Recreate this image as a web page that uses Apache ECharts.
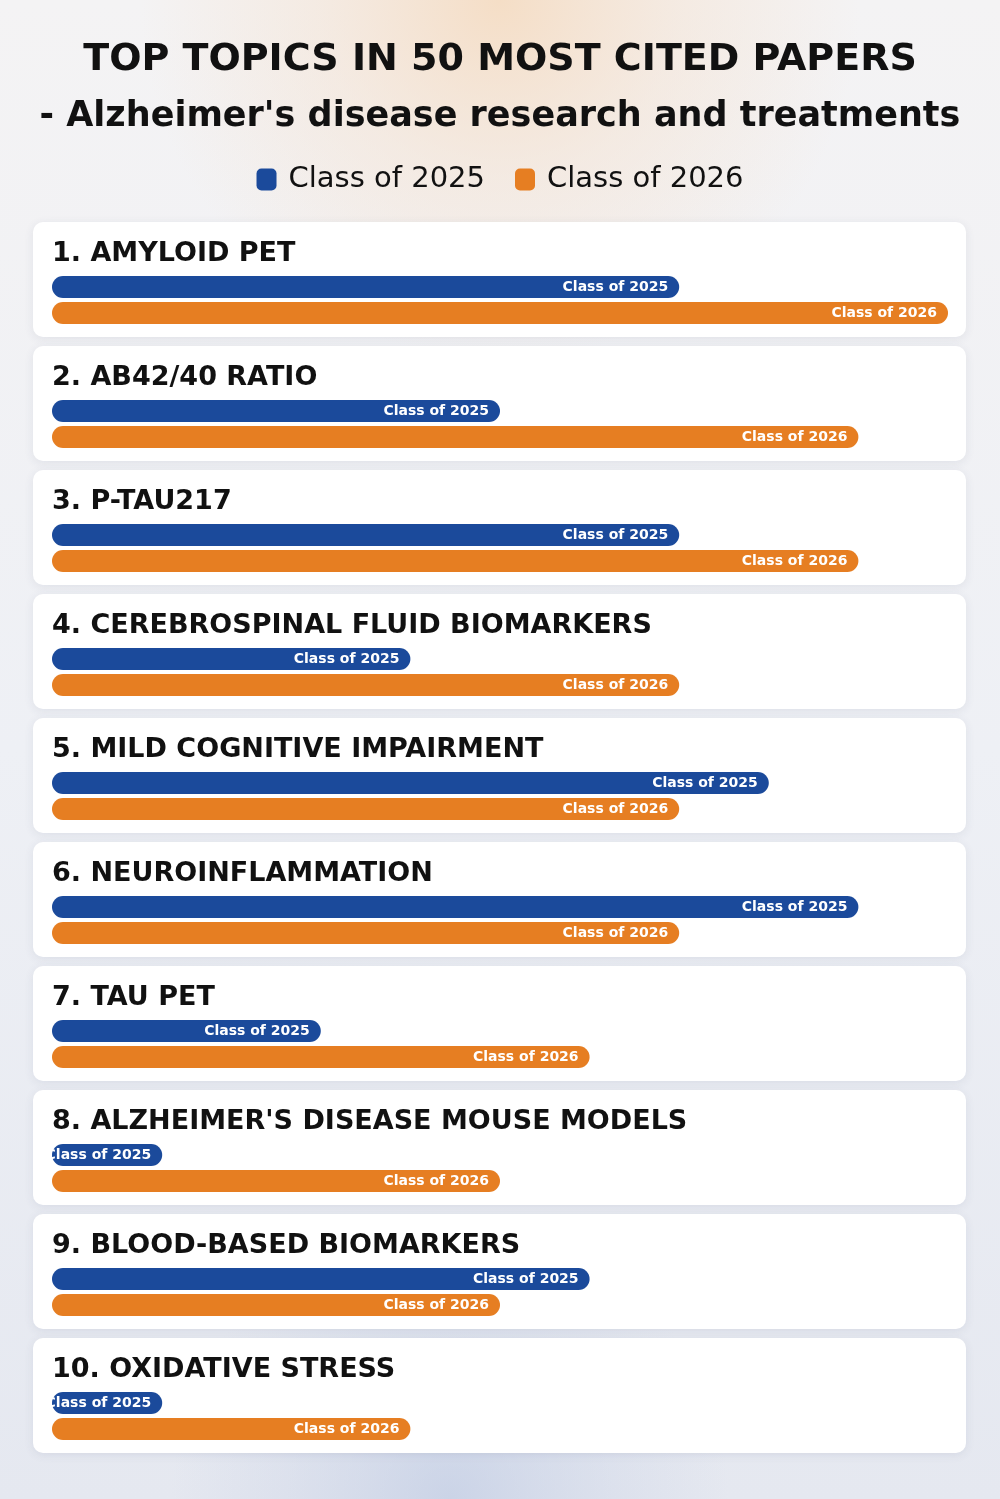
<!DOCTYPE html>
<html>
<head>
<meta charset="utf-8">
<script src="https://cdn.jsdelivr.net/npm/echarts@6/dist/echarts.min.js"></script>
<style>
html,body{margin:0;padding:0;}
#chart{width:1000px;height:1499px;}
</style>
</head>
<body>
<div id="chart"></div>
<script>
const topics = [
  "1. AMYLOID PET",
  "2. AB42/40 RATIO",
  "3. P-TAU217",
  "4. CEREBROSPINAL FLUID BIOMARKERS",
  "5. MILD COGNITIVE IMPAIRMENT",
  "6. NEUROINFLAMMATION",
  "7. TAU PET",
  "8. ALZHEIMER'S DISEASE MOUSE MODELS",
  "9. BLOOD-BASED BIOMARKERS",
  "10. OXIDATIVE STRESS"
];
const class2025 = [7, 5, 7, 4, 8, 9, 3, 1.23, 6, 1.23];
const class2026 = [10, 9, 9, 7, 7, 7, 6, 5, 5, 4];
const seriesNames = ["Class of 2025", "Class of 2026"];
const rowCats = ["2025", "2026"];
const mainTitle = "TOP TOPICS IN 50 MOST CITED PAPERS";
const subTitle = "- Alzheimer's disease research and treatments";

const BLUE = "#1b4a9b";
const ORANGE = "#e67e22";
const FONT = "'DejaVu Sans', sans-serif";

const chart = echarts.init(document.getElementById('chart'), null, {renderer: 'canvas'});

const cardTop0 = 222, pitch = 124, cardH = 115;
const grids = [], xAxes = [], yAxes = [], series = [], titles = [], cards = [];

titles.push({
  text: mainTitle, left: 'center', top: 36,
  textStyle: {fontFamily: FONT, fontWeight: 'bold', fontSize: 38, color: '#111111'}
});
titles.push({
  text: subTitle, left: 'center', top: 94,
  textStyle: {fontFamily: FONT, fontWeight: 'bold', fontSize: 35, color: '#111111'}
});

topics.forEach((t, i) => {
  const top = cardTop0 + pitch * i;
  cards.push({
    type: 'rect', z: -5,
    shape: {x: 33, y: top, width: 933, height: cardH, r: 10},
    style: {fill: '#ffffff', shadowBlur: 10, shadowColor: 'rgba(60,70,110,0.10)', shadowOffsetY: 2}
  });
  titles.push({
    text: t, left: 47, top: top + 13,
    textStyle: {fontFamily: FONT, fontWeight: 'bold', fontSize: 27, color: '#111111'}
  });
  grids.push({left: 52, right: 52, top: top + 52, height: 52, containLabel: false});
  xAxes.push({type: 'value', gridIndex: i, min: 0, max: 10, show: false});
  yAxes.push({type: 'category', gridIndex: i, data: rowCats, inverse: true, show: false});
  [class2025, class2026].forEach((arr, k) => {
    const data = k === 0 ? [arr[i], null] : [null, arr[i]];
    series.push({
      name: seriesNames[k], type: 'bar', xAxisIndex: i, yAxisIndex: i,
      data: data, barWidth: 22, barGap: '-100%',
      itemStyle: {color: k === 0 ? BLUE : ORANGE, borderRadius: 11},
      label: {
        show: true, position: 'insideRight', distance: 11,
        formatter: seriesNames[k],
        color: '#ffffff', fontWeight: 'bold', fontSize: 14, fontFamily: FONT
      },
      silent: true, animation: false
    });
  });
});

const option = {
  animation: false,
  graphic: [
    {type: 'rect', z: -20, silent: true, shape: {x: 0, y: 0, width: 1000, height: 1499},
     style: {fill: new echarts.graphic.LinearGradient(0, 0, 0, 1, [
       {offset: 0, color: '#f4f3f4'}, {offset: 0.5, color: '#eef0f5'}, {offset: 1, color: '#e5e8f0'}])}},
    {type: 'rect', z: -19, silent: true, shape: {x: 0, y: 0, width: 1000, height: 600},
     style: {fill: new echarts.graphic.RadialGradient(0.5, 0.0, 0.6, [
       {offset: 0, color: 'rgba(245,218,190,0.85)'}, {offset: 0.5, color: 'rgba(245,222,200,0.4)'}, {offset: 1, color: 'rgba(245,222,200,0)'}])}},
    {type: 'rect', z: -19, silent: true, shape: {x: 0, y: 1100, width: 1000, height: 399},
     style: {fill: new echarts.graphic.RadialGradient(0.45, 1, 0.7, [
       {offset: 0, color: 'rgba(185,198,225,0.6)'}, {offset: 0.6, color: 'rgba(195,205,228,0.25)'}, {offset: 1, color: 'rgba(195,205,228,0)'}])}},
    ...cards
  ],
  title: titles,
  legend: {
    data: seriesNames, top: 160, left: 'center',
    icon: 'roundRect', itemWidth: 20, itemHeight: 22, itemGap: 30,
    textStyle: {fontFamily: FONT, fontSize: 29, color: '#111111', padding: [0, 0, 0, 7]},
    selectedMode: false
  },
  grid: grids,
  xAxis: xAxes,
  yAxis: yAxes,
  series: series
};
chart.setOption(option);
</script>
</body>
</html>
